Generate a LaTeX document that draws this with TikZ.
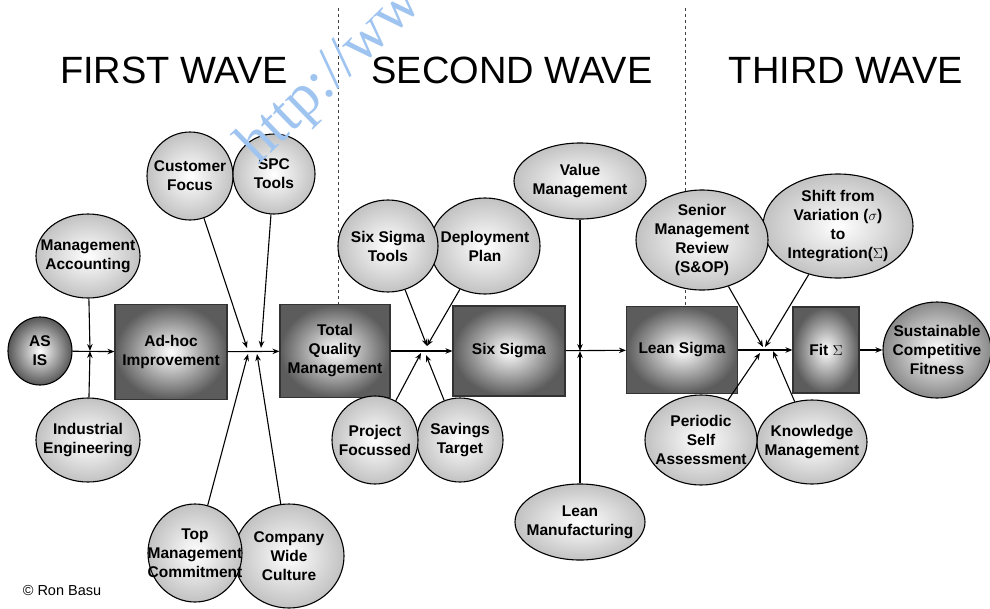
\documentclass[tikz,border=0pt]{standalone}
\usepackage{fontspec}
\setmainfont{Liberation Sans}
\newfontfamily\stampfont{Liberation Serif}
\usetikzlibrary{shapes.geometric,arrows.meta}
\definecolor{stampblue}{RGB}{160,196,240}

\begin{document}
\begin{tikzpicture}[x=1pt,y=-1pt,
   every node/.style={font=\bfseries\fontsize{15.5}{19}\selectfont,align=center},
   bubble/.style 2 args={ellipse,draw,line width=1.1pt,inner sep=-20pt,
      minimum width=#1pt,minimum height=#2pt,inner color=white,outer color=black!24},
   stage/.style 2 args={rectangle,draw=black!80,line width=1.1pt,inner sep=0pt,
      minimum width=#1pt,minimum height=#2pt,inner color=white,outer color=black!64},
   flow/.style={line width=1.1pt,-{Stealth[length=7pt,width=5.5pt]}},
   wave/.style={font=\mdseries\fontsize{38}{40}\selectfont,inner sep=0pt},
   divider/.style={dashed,line width=0.9pt,black!75}]
\useasboundingbox (0,0) rectangle (990,608);

% waves
\node[wave] (first) at (174,70) {FIRST WAVE};
\node[wave] (second) at (512,70) {SECOND WAVE};
\node[wave] (third) at (846,70) {THIRD WAVE};
\coordinate (cut1) at (338,8);
\coordinate (cut2) at (685,8);
\draw[divider] (cut1) -- (cut1 |- 0,305);
\draw[divider] (cut2) -- (cut2 |- 0,306);

% main stages
\node[bubble={64}{68},outer color=black!66] (asis) at (40,351) {AS\\IS};
\node[stage={112}{95}] (adhoc) at (171,352) {Ad-hoc\\Improvement};
\node[stage={110}{93}] (tqm) at (335,351) {Total\\Quality\\Management};
\node[stage={112}{90}] (sixsigma) at (509,351) {Six Sigma};
\node[stage={111}{87}] (lean) at (682,350) {Lean Sigma};
\node[stage={66}{86}] (fit) at (826,350) {Fit $\Sigma$};
\node[bubble={108}{96},outer color=black!46] (scf) at (937,350) {Sustainable\\Competitive\\Fitness};

% first wave inputs
\node[bubble={104}{84}] (mgmtacc) at (88,256) {Management\\Accounting};
\node[bubble={104}{84}] (indeng) at (88,440) {Industrial\\Engineering};
\node[bubble={86}{88}] (custfocus) at (190,176) {Customer\\Focus};
\node[bubble={82}{80}] (spc) at (274,174) {SPC\\Tools};
\node[bubble={110}{104}] (culture) at (289,556) {Company\\Wide\\Culture};
\node[bubble={94}{98}] (topmgmt) at (195,553) {Top\\Management\\Commitment};

% second wave inputs
\node[bubble={110}{96}] (deploy) at (485,246) {Deployment\\Plan};
\node[bubble={100}{92}] (sstools) at (388,246) {Six Sigma\\Tools};
\node[bubble={86}{84}] (savings) at (460,440) {Savings\\Target};
\node[bubble={86}{88}] (project) at (375,440) {Project\\Focussed};
\node[bubble={132}{76}] (value) at (580,181) {Value\\Management};
\node[bubble={130}{76}] (leanmfg) at (580,522) {Lean\\Manufacturing};

% third wave inputs
\node[bubble={150}{104}] (shift) at (838,226) {Shift from\\Variation ($\sigma$)\\to\\Integration($\Sigma$)};
\node[bubble={132}{100}] (review) at (702,240) {Senior\\Management\\Review\\(S\&OP)};
\node[bubble={110}{84}] (knowledge) at (812,442) {Knowledge\\Management};
\node[bubble={112}{90}] (periodic) at (701,440) {Periodic\\Self\\Assessment};

% junctions
\coordinate (j1) at (90,351);
\coordinate (j2a) at (247,348);
\coordinate (j2b) at (261,348);
\coordinate (j2c) at (248,354);
\coordinate (j2d) at (257,354);
\coordinate (j3a) at (427,346);
\coordinate (j3b) at (421,353);
\coordinate (j3c) at (426,355);
\coordinate (j4) at (580,351);
\coordinate (j5a) at (763,347);
\coordinate (j5b) at (765,347);
\coordinate (j5c) at (760,353);
\coordinate (j5d) at (773,351);

\draw[flow] (asis) -- (adhoc);
\draw[flow] (adhoc) -- (tqm);
\draw[flow] (tqm) -- (sixsigma);
\draw[flow] (sixsigma) -- (lean);
\draw[flow] (lean) -- (fit);
\draw[flow] (fit) -- (scf);

\draw[flow] (mgmtacc) -- (j1);
\draw[flow] (indeng) -- (j1);
\draw[flow] (custfocus) -- (j2a);
\draw[flow] (spc) -- (j2b);
\draw[flow] (topmgmt) -- (j2c);
\draw[flow] (culture) -- (j2d);
\draw[flow] (sstools) -- (j3a);
\draw[flow] (deploy) -- (j3a);
\draw[flow] (project) -- (j3b);
\draw[flow] (savings) -- (j3c);
\draw[flow] (value) -- (j4);
\draw[flow] (leanmfg) -- (j4);
\draw[flow] (review) -- (j5a);
\draw[flow] (shift) -- (j5b);
\draw[flow] (periodic) -- (j5c);
\draw[flow] (knowledge) -- (j5d);

\node[font=\mdseries\fontsize{14.5}{16}\selectfont] (credit) at (62,590) {\textcopyright{} Ron Basu};

\begin{scope}
\clip (0,0) rectangle (990,608);
\node[font=\stampfont\fontsize{60}{60}\selectfont,text=stampblue,rotate=44,anchor=base west,inner sep=0pt] (stamp) at (258,166) {http://www};
\end{scope}
\end{tikzpicture}
\end{document}
